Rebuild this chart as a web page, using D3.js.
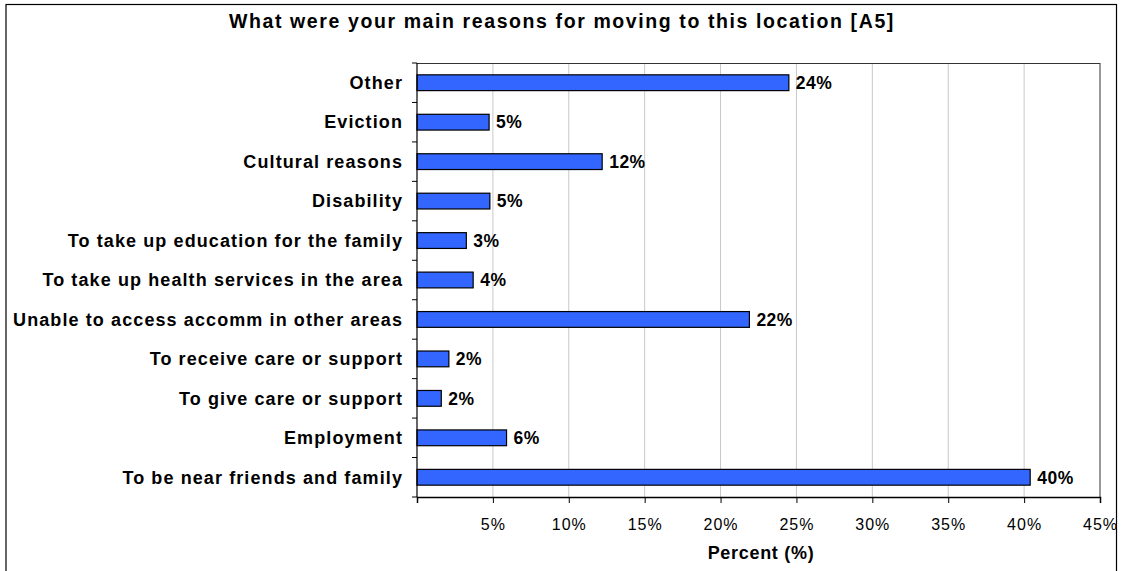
<!DOCTYPE html>
<html>
<head>
<meta charset="utf-8">
<script src="https://cdn.jsdelivr.net/npm/d3@7"></script>
<style>
  body { margin: 0; background: #fff; }
  svg { display: block; font-family: Arial, "Liberation Sans", sans-serif; }
</style>
</head>
<body>
<svg id="chart" width="1122" height="571"></svg>
<script>
// Datos (de arriba hacia abajo)
const categories = [
  "Other",
  "Eviction",
  "Cultural reasons",
  "Disability",
  "To take up education for the family",
  "To take up health services in the area",
  "Unable to access accomm in other areas",
  "To receive care or support",
  "To give care or support",
  "Employment",
  "To be near friends and family"
];
const values = [24.5, 4.75, 12.2, 4.8, 3.25, 3.7, 21.9, 2.1, 1.6, 5.9, 40.4];
const valueLabels = ["24%", "5%", "12%", "5%", "3%", "4%", "22%", "2%", "2%", "6%", "40%"];
const xTicks = [0, 5, 10, 15, 20, 25, 30, 35, 40, 45];
const title = "What were your main reasons for moving to this location [A5]";
const xTitle = "Percent (%)";

const svg = d3.select("#chart");
const W = 1122, H = 571;
const m = { top: 63, right: 22, bottom: 74, left: 417 };
const iw = W - m.left - m.right, ih = H - m.top - m.bottom;

// Marco exterior
svg.append("rect")
  .attr("x", 6).attr("y", 4.5).attr("width", 1110.5).attr("height", 580)
  .attr("fill", "none").attr("stroke", "#000").attr("stroke-width", 1.2);

// Título
svg.append("text")
  .attr("x", 562).attr("y", 27.5)
  .attr("text-anchor", "middle")
  .attr("font-size", "19.5px").attr("font-weight", "bold")
  .attr("letter-spacing", "1.6px")
  .text(title);

const g = svg.append("g").attr("transform", `translate(${m.left},${m.top})`);

const x = d3.scaleLinear().domain([0, 45]).range([0, iw]);
const y = d3.scaleBand().domain(categories).range([0, ih]).paddingInner(0.6).paddingOuter(0.3);
const yb = d3.scaleBand().domain(categories).range([0, ih]);

// Rejilla
g.selectAll(".grid").data(xTicks.slice(1, -1)).join("line")
  .attr("x1", d => x(d)).attr("x2", d => x(d))
  .attr("y1", 0).attr("y2", ih)
  .attr("stroke", "#c8c8c8").attr("stroke-width", 1);

// Borde del área
g.append("line").attr("x1", 0).attr("x2", iw).attr("y1", 0.5).attr("y2", 0.5)
  .attr("stroke", "#333").attr("stroke-width", 1);
g.append("line").attr("x1", iw).attr("x2", iw).attr("y1", 0).attr("y2", ih)
  .attr("stroke", "#333").attr("stroke-width", 1);

// Barras
g.selectAll(".bar").data(values).join("rect")
  .attr("x", 0)
  .attr("y", (d, i) => y(categories[i]))
  .attr("width", d => x(d))
  .attr("height", y.bandwidth())
  .attr("fill", "#3366ff")
  .attr("stroke", "#000").attr("stroke-width", 1.2);

// Etiquetas de valor
g.selectAll(".vlab").data(values).join("text")
  .attr("x", d => x(d) + 7)
  .attr("y", (d, i) => y(categories[i]) + y.bandwidth() / 2)
  .attr("dy", "0.36em")
  .attr("font-size", "17.5px").attr("font-weight", "bold")
  .attr("letter-spacing", "0.5px")
  .text((d, i) => valueLabels[i]);

// Eje Y
g.append("line").attr("x1", 0).attr("x2", 0).attr("y1", 0).attr("y2", ih)
  .attr("stroke", "#000").attr("stroke-width", 1.2);
g.selectAll(".ytick").data(categories.concat([null])).join("line")
  .attr("x1", -5).attr("x2", 0)
  .attr("y1", (d, i) => i * yb.step()).attr("y2", (d, i) => i * yb.step())
  .attr("stroke", "#000");
g.selectAll(".ylab").data(categories).join("text")
  .attr("x", -14)
  .attr("y", d => yb(d) + yb.bandwidth() / 2)
  .attr("dy", "0.35em")
  .attr("text-anchor", "end")
  .attr("font-size", "18px").attr("font-weight", "bold")
  .attr("letter-spacing", "1.1px")
  .text(d => d);

// Eje X
const xAxis = g.append("g").attr("transform", `translate(0,${ih})`)
  .call(d3.axisBottom(x).tickValues(xTicks).tickSize(6).tickFormat(d => d === 0 ? "" : d + "%"));
xAxis.select(".domain").attr("stroke", "#000").attr("stroke-width", 1.5);
xAxis.selectAll(".tick line").attr("stroke", "#000");
xAxis.selectAll("text")
  .attr("y", 22).attr("dy", "0.71em")
  .attr("font-size", "16px").attr("letter-spacing", "1px")
  .attr("font-family", "Arial, 'Liberation Sans', sans-serif")
  .attr("fill", "#000");

svg.append("text")
  .attr("x", 761).attr("y", 559)
  .attr("text-anchor", "middle")
  .attr("font-size", "18px").attr("font-weight", "bold")
  .attr("letter-spacing", "0.7px")
  .text(xTitle);
</script>
</body>
</html>
